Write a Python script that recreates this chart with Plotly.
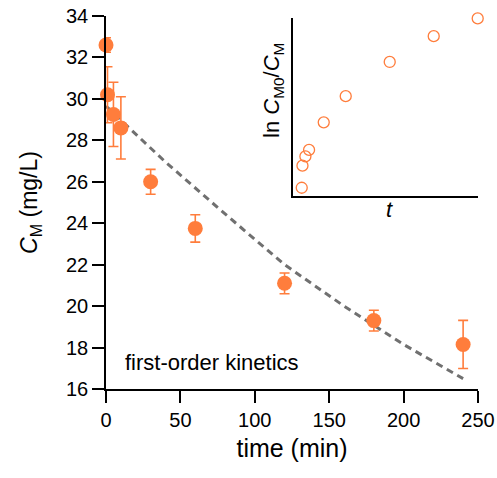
import numpy as np
import plotly.graph_objects as go

# Data
time_min = [0, 1, 5, 10, 30, 60, 120, 180, 240]
conc_mgL = [32.6, 30.2, 29.25, 28.6, 26.0, 23.75, 21.1, 19.3, 18.15]
conc_err = [0.35, 1.35, 1.55, 1.5, 0.6, 0.66, 0.5, 0.5, 1.16]

fit_time = [0, 40, 80, 120, 160, 200, 240]
fit_conc = [29.65, 26.95, 24.45, 22.0, 20.0, 18.15, 16.5]

x_ticks = [0, 50, 100, 150, 200, 250]
y_ticks = [16, 18, 20, 22, 24, 26, 28, 30, 32, 34]

ln_ratio = list(np.log(conc_mgL[0] / np.array(conc_mgL)))

ORANGE = "#FF7D3C"
FONT = "Liberation Sans, Arial, sans-serif"

fig = go.Figure()

fig.add_trace(go.Scatter(
    x=fit_time, y=fit_conc, mode="lines",
    line=dict(color="#707070", width=3, dash="7px,5px"),
    showlegend=False, hoverinfo="skip", cliponaxis=False,
))

fig.add_trace(go.Scatter(
    x=time_min, y=conc_mgL, mode="markers",
    marker=dict(color=ORANGE, size=15, line=dict(width=0)),
    error_y=dict(type="data", array=conc_err, color=ORANGE, thickness=1.6, width=5),
    showlegend=False, cliponaxis=False,
))

fig.add_trace(go.Scatter(
    x=time_min, y=ln_ratio, mode="markers", xaxis="x2", yaxis="y2",
    marker=dict(symbol="circle-open", color=ORANGE, size=11, line=dict(width=1.3, color=ORANGE)),
    showlegend=False, cliponaxis=False,
))

fig.update_layout(
    width=497, height=478,
    margin=dict(l=106, r=19, t=16, b=89),
    paper_bgcolor="white", plot_bgcolor="white",
    font=dict(family=FONT, size=20, color="black"),
    xaxis=dict(
        range=[0, 250], tickvals=x_ticks, ticks="outside", ticklen=12, tickwidth=1.5,
        tickcolor="black", showline=True, linecolor="black", linewidth=1.5,
        showgrid=False, zeroline=False, tickfont=dict(size=20), automargin=False,
        title=dict(text="time (min)", font=dict(size=25), standoff=10),
    ),
    yaxis=dict(
        range=[16, 34], tickvals=y_ticks, ticks="outside", ticklen=12, tickwidth=1.5,
        tickcolor="black", showline=True, linecolor="black", linewidth=1.5,
        showgrid=False, zeroline=False, tickfont=dict(size=20), automargin=False,
        title=dict(text="<i>C</i><sub>M</sub> (mg/L)", font=dict(size=23), standoff=22),
    ),
    xaxis2=dict(
        domain=[0.5035, 0.9992], anchor="y2", range=[-11.5, 240],
        showline=True, linecolor="black", linewidth=1.5, showticklabels=False,
        ticks="", showgrid=False, zeroline=False, automargin=False,
    ),
    yaxis2=dict(
        domain=[0.5174, 0.9946], anchor="x2", range=[-0.0286, 0.587],
        showline=True, linecolor="black", linewidth=1.5, showticklabels=False,
        ticks="", showgrid=False, zeroline=False, automargin=False,
    ),
    annotations=[
        dict(text="first-order kinetics", x=11.2, y=17.3, xref="x", yref="y",
             xanchor="left", yanchor="middle", showarrow=False, font=dict(size=22)),
        dict(text="ln <i>C</i><sub>M0</sub>/<i>C</i><sub>M</sub>", x=0.449, y=0.799,
             xref="paper", yref="paper", textangle=-90, xanchor="center", yanchor="middle",
             showarrow=False, font=dict(size=22)),
        dict(text="<i>t</i>", x=0.763, y=0.482, xref="paper", yref="paper",
             xanchor="center", yanchor="middle", showarrow=False, font=dict(size=22)),
    ],
)

fig.write_html("out.html")
